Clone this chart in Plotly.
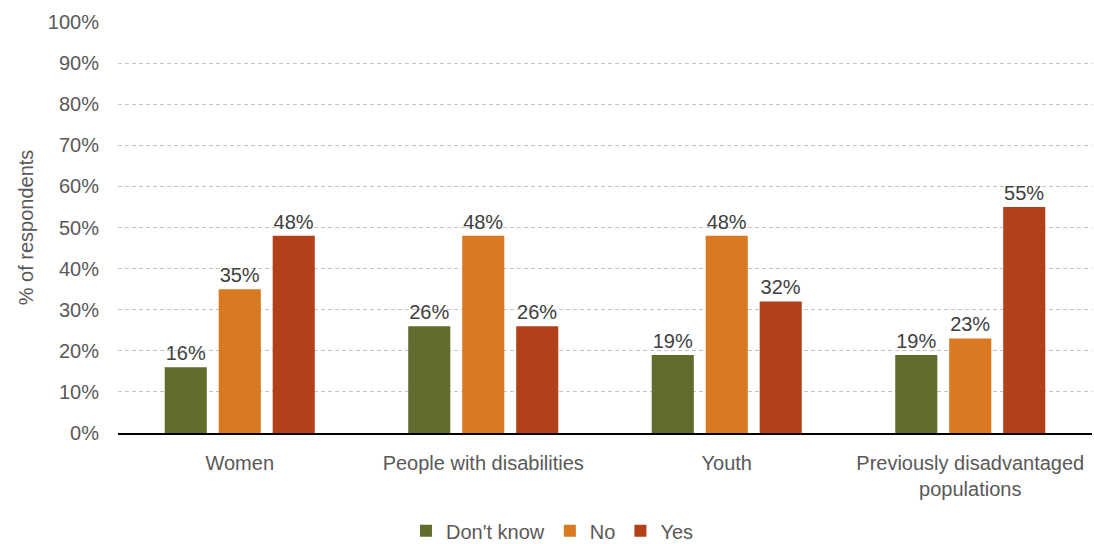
import plotly.graph_objects as go

categories = ["Women", "People with disabilities", "Youth",
              "Previously disadvantaged<br>populations"]
dont_know = [16, 26, 19, 19]
no = [35, 48, 48, 23]
yes = [48, 26, 32, 55]
y_ticks = list(range(0, 101, 10))

series = [
    ("Don't know", dont_know, "#636b2f"),
    ("No", no, "#d97a22"),
    ("Yes", yes, "#b2411a"),
]

fig = go.Figure()
for name, vals, color in series:
    fig.add_trace(go.Bar(
        name=name, x=categories, y=vals,
        marker=dict(color=color, line=dict(width=0)),
        text=[f"{v}%" for v in vals], textposition="outside",
        textfont=dict(size=20, color="#404040"),
        cliponaxis=False,
    ))

fig.update_layout(
    width=1094, height=544,
    margin=dict(l=118, r=2, t=22, b=111, autoexpand=False),
    paper_bgcolor="white", plot_bgcolor="white",
    font=dict(family="Liberation Sans, Arial, sans-serif", size=20, color="#595959"),
    barmode="group", bargap=0.335, bargroupgap=0.22,
    showlegend=True,
    legend=dict(orientation="h", xref="container", x=0.505, xanchor="center",
                y=-0.238, yanchor="middle",
                font=dict(size=20, color="#595959"), itemwidth=30,
                traceorder="normal"),
    xaxis=dict(showline=True, linecolor="black", linewidth=1.5, ticks="",
               ticklabelstandoff=11, automargin=False,
               tickfont=dict(size=20, color="#595959")),
    yaxis=dict(range=[0, 100], tickvals=y_ticks,
               ticktext=[f"{t}%" for t in y_ticks],
               showgrid=True, gridcolor="#c4c4c4", griddash="4px,3px", gridwidth=1,
               zeroline=False, ticks="", ticklabelstandoff=18, automargin=False,
               tickfont=dict(size=20, color="#595959")),
)
fig.update_yaxes(title=dict(text="% of respondents", standoff=8,
                            font=dict(size=20, color="#595959")))

fig.write_html("out.html")
